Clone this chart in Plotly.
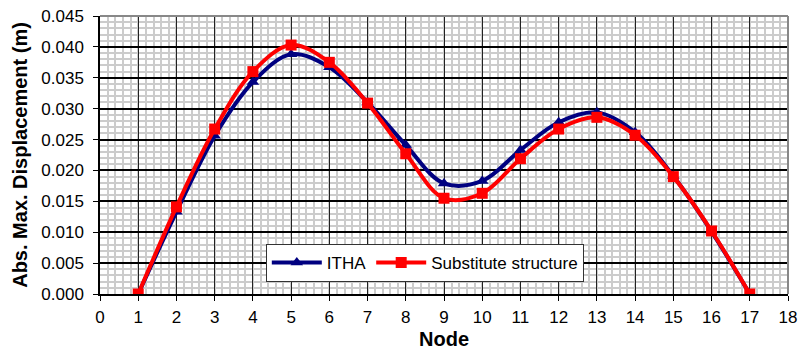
import plotly.graph_objects as go

# Node numbers along the structure
nodes = list(range(1, 18))

# Absolute maximum displacement (m) per node
itha = [0.0, 0.0133, 0.0256, 0.0343, 0.0388, 0.0367, 0.0310, 0.0241, 0.0179,
        0.0183, 0.0233, 0.0278, 0.0294, 0.0262, 0.0191, 0.0101, 0.0]
substitute = [0.0, 0.0141, 0.0267, 0.0360, 0.0403, 0.0375, 0.0309, 0.0227, 0.0155,
              0.0163, 0.0219, 0.0267, 0.0286, 0.0257, 0.0190, 0.0102, 0.0]

x_ticks = list(range(0, 19))
y_ticks = [i * 0.005 for i in range(10)]

FONT = "Arial, 'Liberation Sans', sans-serif"

fig = go.Figure()
fig.add_trace(go.Scatter(
    x=nodes, y=itha, name="ITHA", mode="lines+markers",
    line=dict(color="#000080", width=4, shape="spline", smoothing=1.0),
    marker=dict(symbol="triangle-up", size=11, color="#000080"),
))
fig.add_trace(go.Scatter(
    x=nodes, y=substitute, name="Substitute structure", mode="lines+markers",
    line=dict(color="#FF0000", width=4, shape="spline", smoothing=1.0),
    marker=dict(symbol="square", size=11, color="#FF0000"),
))

fig.update_layout(
    width=801, height=351,
    margin=dict(l=100, r=13, t=16, b=57),
    paper_bgcolor="white", plot_bgcolor="white",
    font=dict(family=FONT, size=17, color="black"),
    showlegend=True,
    legend=dict(
        orientation="h", x=0.241, y=0.18, xanchor="left", yanchor="top",
        bgcolor="white", bordercolor="#333333", borderwidth=1,
        font=dict(family=FONT, size=17, color="black"),
        itemwidth=50, tracegroupgap=0,
    ),
    xaxis=dict(
        range=[0, 18], tickmode="array", tickvals=x_ticks,
        ticktext=[str(v) for v in x_ticks],
        showgrid=True, gridcolor="#222222", gridwidth=1,
        minor=dict(dtick=0.2, showgrid=True, gridcolor="#cccccc", gridwidth=1.5),
        showline=True, linecolor="black", linewidth=1.5,
        ticks="outside", ticklen=5, tickcolor="black",
        ticklabelstandoff=2, automargin=False,
        zeroline=False,
        title=dict(text="<b>Node</b>", font=dict(family=FONT, size=20), standoff=6),
    ),
    yaxis=dict(
        range=[0, 0.045], tickmode="array", tickvals=y_ticks,
        ticktext=[f"{v:.3f}" for v in y_ticks],
        showgrid=True, gridcolor="black", gridwidth=2,
        minor=dict(dtick=0.001, showgrid=True, gridcolor="#cccccc", gridwidth=1.5),
        showline=True, linecolor="black", linewidth=1.5,
        ticks="outside", ticklen=5, tickcolor="black",
        ticklabelstandoff=6, automargin=False,
        zeroline=False,
        title=dict(text="<b>Abs. Max. Displacement (m)</b>",
                   font=dict(family=FONT, size=20), standoff=8),
    ),
)

# Gray frame on the top and right edges of the plotting area
fig.add_shape(type="line", xref="paper", yref="paper", x0=0, x1=1, y0=1, y1=1,
              line=dict(color="#888888", width=2))
fig.add_shape(type="line", xref="paper", yref="paper", x0=1, x1=1, y0=0, y1=1,
              line=dict(color="#888888", width=2))

fig.write_html("out.html")
